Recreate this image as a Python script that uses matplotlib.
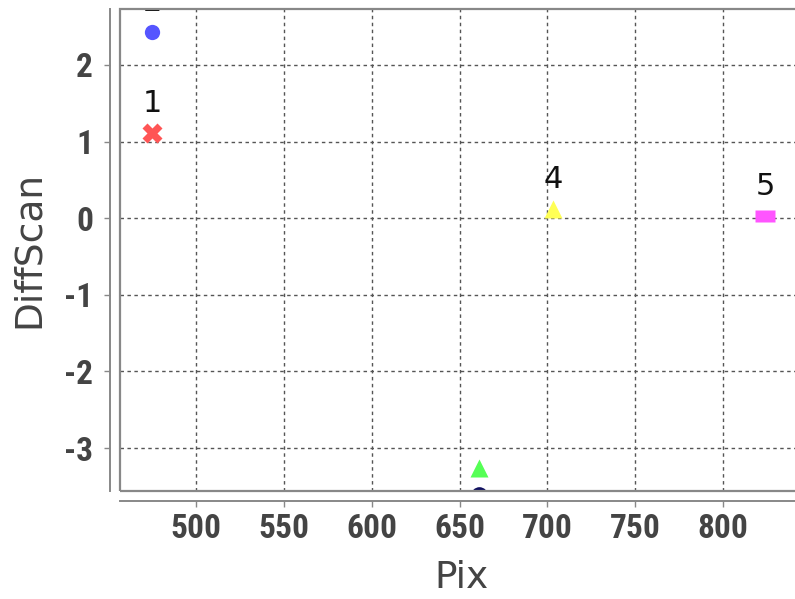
import numpy as np
import matplotlib
matplotlib.use('Agg')
import matplotlib.pyplot as plt
from matplotlib.patches import Rectangle
from matplotlib import font_manager

# points
pix = [474.9, 474.9, 661.0, 703.1, 823.8, 661.0]
diff = [1.11, 2.43, -3.26, 0.12, 0.03, -3.61]
point_labels = ['1', '2', '', '4', '5', '']
colors = ['#ff5555', '#5555ff', '#55ff55', '#ffff55', '#ff55ff', '#101060']
markers = ['X', 'o', '^', '^', [(-1, -0.55), (1, -0.55), (1, 0.55), (-1, 0.55)], 'o']
msizes = [15, 11, 13, 13, 15, 12]

xticks = [500, 550, 600, 650, 700, 750, 800]
yticks = [-3, -2, -1, 0, 1, 2]


def narrow_font():
	# look for a condensed/narrow bold face among installed fonts
	names = set(f.name for f in font_manager.fontManager.ttflist)
	for n in ['Liberation Sans Narrow', 'DejaVu Sans Condensed', 'Roboto Condensed', 'Open Sans Condensed']:
		if n in names:
			return n, 'normal'
	for f in font_manager.fontManager.ttflist:
		if f.name == 'DejaVu Sans' and 'ondensed' in f.fname:
			return 'DejaVu Sans', 'condensed'
	return 'DejaVu Sans', 'normal'


def main():
	W, H = 795, 599
	fig = plt.figure(figsize=(W / 100, H / 100), dpi=100)
	left, right, top, bottom = 120, 803, 9, 491
	ax = fig.add_axes([left / W, 1 - bottom / H, (right - left) / W, (bottom - top) / H])

	ax.set_xlim(456.7, 845.5)
	ax.set_ylim(-3.56, 2.73)

	for i in range(len(pix)):
		ax.plot(pix[i], diff[i], linestyle='none', marker=markers[i], ms=msizes[i],
				color=colors[i], mec='none', zorder=3)
		if point_labels[i]:
			ax.annotate(point_labels[i], (pix[i], diff[i]), xytext=(0, 11),
						textcoords='offset points', ha='center', va='bottom',
						fontsize=22, color='#111111', clip_on=True, zorder=4)

	ax.set_xticks(xticks)
	ax.set_yticks(yticks)
	ax.set_xticklabels([str(v) for v in xticks])
	ax.set_yticklabels([str(v) for v in yticks])
	ax.grid(True, linestyle=(0, (2.5, 2.5)), color='#555555', linewidth=1.0)
	ax.set_axisbelow(True)

	# plot border
	ax.add_patch(Rectangle((0, 0), 1, 1, transform=ax.transAxes, fill=False,
						   edgecolor='#888888', linewidth=1.6, clip_on=False, zorder=5))
	for s in ['top', 'right']:
		ax.spines[s].set_visible(False)
	for s in ['left', 'bottom']:
		ax.spines[s].set_position(('outward', 7.5))
		ax.spines[s].set_color('#888888')
		ax.spines[s].set_linewidth(1.4)

	fam, stretch = narrow_font()
	ax.tick_params(axis='both', direction='out', length=4, width=1, color='#888888',
				   labelcolor='#444444', labelsize=24)
	ax.tick_params(axis='y', pad=8)
	ax.tick_params(axis='x', pad=4)
	for lab in ax.get_xticklabels() + ax.get_yticklabels():
		lab.set_family([fam, 'DejaVu Sans'])
		lab.set_fontstretch(stretch)
		lab.set_fontweight('bold')
		if fam == 'DejaVu Sans' and stretch == 'normal':
			lab.set_fontsize(19)

	ax.set_xlabel('Pix', fontsize=27, color='#444444', labelpad=11)
	ax.set_ylabel('DiffScan', fontsize=27, color='#444444', labelpad=12)

	plt.savefig('out.png', dpi=100)


if __name__ == "__main__":
	main()
